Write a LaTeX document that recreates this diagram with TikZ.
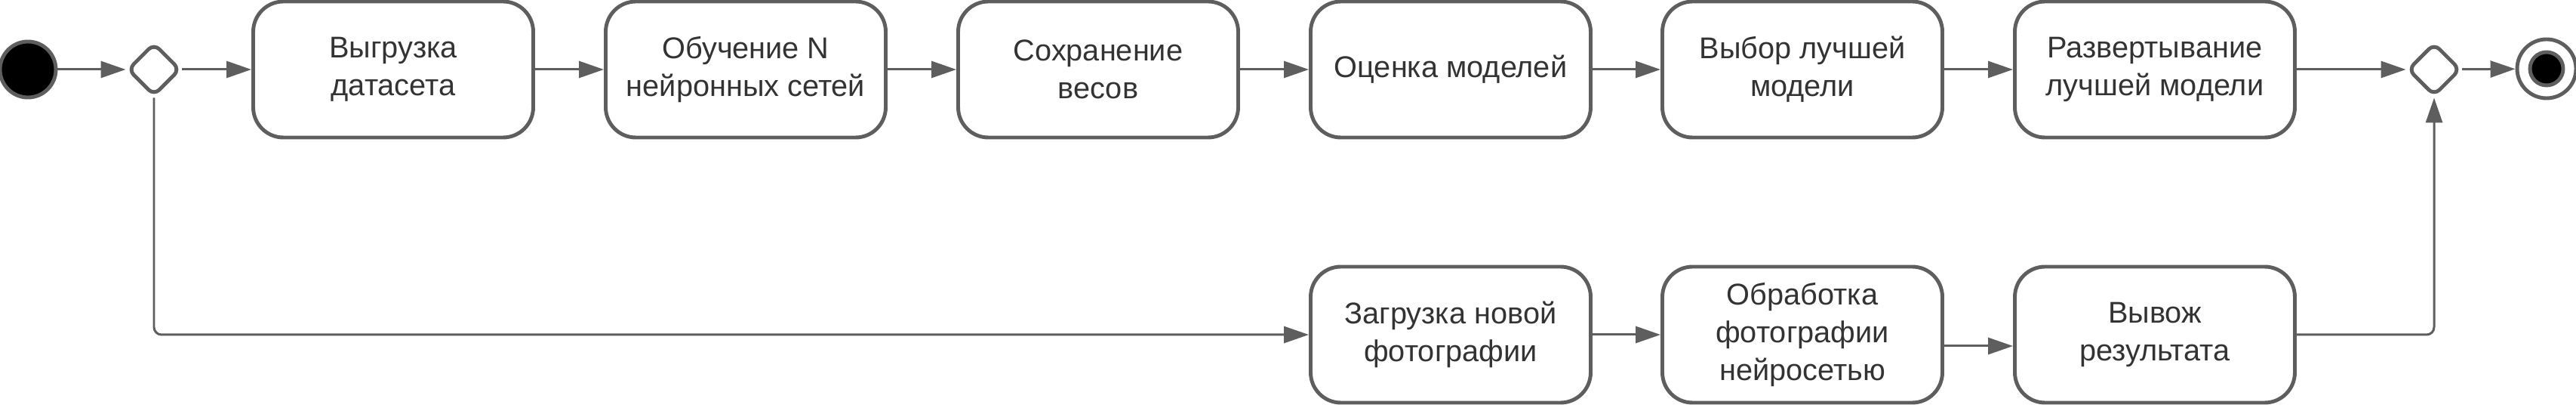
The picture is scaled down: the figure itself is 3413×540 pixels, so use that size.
\documentclass[tikz,border=0pt]{standalone}
\usepackage{fontspec}
\setmainfont{Liberation Sans}
\usetikzlibrary{arrows.meta,shapes.geometric}
\definecolor{linegray}{HTML}{5E5E5E}
\definecolor{textgray}{HTML}{333333}
\tikzset{
  act/.style={draw=linegray,line width=1.4pt,rounded corners=4mm,fill=white,
    minimum width=3.71cm,minimum height=1.8cm,align=center,text=textgray,
    font=\fontsize{11.3}{14.2}\selectfont},
  decis/.style={diamond,draw=linegray,line width=1.4pt,rounded corners=1mm,
    minimum width=7mm,minimum height=7mm,inner sep=0pt,fill=white},
  arr/.style={draw=linegray,line width=0.85pt,-{Triangle[length=3.3mm,width=2.2mm]}},
}

\begin{document}
\begin{tikzpicture}[x=0.1mm,y=-0.1mm]
  \useasboundingbox (0,0) rectangle (3413,540);
  \node[circle,draw=linegray,line width=1.4pt,fill=black,minimum size=7.4mm,inner sep=0pt] (start) at (37,92) {};
  \node[decis] (dec1) at (204,92) {};
  \node[act] (load) at (521,92) {Выгрузка\\датасета};
  \node[act] (train) at (988,92) {Обучение N\\нейронных сетей};
  \node[act] (save) at (1455,92) {Сохранение\\весов};
  \node[act] (eval) at (1922,92) {Оценка моделей};
  \node[act] (pick) at (2388,92) {Выбор лучшей\\модели};
  \node[act] (deploy) at (2855,92) {Развертывание\\лучшей модели};
  \node[decis] (dec2) at (3225,92) {};
  \node[circle,draw=linegray,line width=1.4pt,fill=white,minimum size=7.8mm,inner sep=0pt] (stop) at (3374,91) {};
  \node[circle,draw=linegray,line width=1.4pt,fill=black,minimum size=4.4mm,inner sep=0pt] (stopin) at (stop) {};
  % bottom row
  \node[act] (upload) at (1922,443) {Загрузка новой\\фотографии};
  \node[act] (proc) at (2388,443) {Обработка\\фотографии\\нейросетью};
  \node[act] (res) at (2855,443) {Вывож\\результата};

  \draw[arr] (start) -- (dec1);
  \draw[arr] (dec1) -- (load);
  \draw[arr] (load) -- (train);
  \draw[arr] (train) -- (save);
  \draw[arr] (save) -- (eval);
  \draw[arr] (eval) -- (pick);
  \draw[arr] (pick) -- (deploy);
  \draw[arr] (deploy) -- (dec2);
  \draw[arr] (dec2) -- (stop);
  \draw[arr,rounded corners=1mm] (dec1.south) |- (upload.west);
  \draw[arr] (upload) -- (proc);
  \draw[arr] ([yshift=-1.5mm]proc.east) -- ([yshift=-1.5mm]proc.east -| res.west);
  \draw[arr,rounded corners=1mm] (res.east) -| (dec2.south);
\end{tikzpicture}
\end{document}
